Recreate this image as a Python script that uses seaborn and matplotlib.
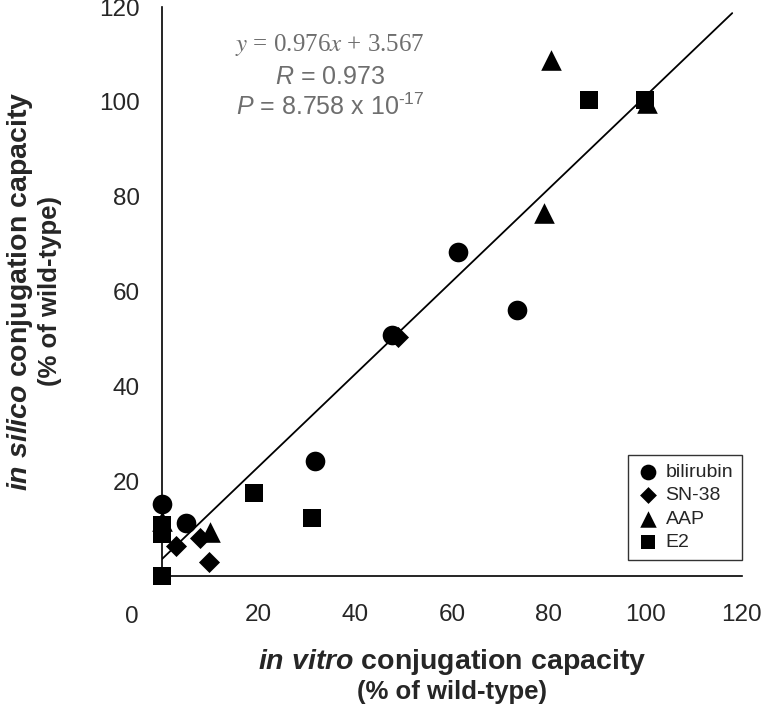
import matplotlib
matplotlib.use('Agg')
import matplotlib.pyplot as plt
import seaborn as sns

# values
bilirubin_x = [0, 5.0, 31.7, 47.6, 61.3, 73.5]
bilirubin_y = [15.2, 11.2, 24.3, 50.8, 68.4, 56.1]

sn38_x = [2.9, 7.9, 9.7, 48.9]
sn38_y = [6.3, 8.0, 3.0, 50.3]

aap_x = [0, 9.9, 79.0, 80.5, 100.4]
aap_y = [11.5, 9.3, 76.5, 108.9, 99.8]

e2_x = [0, 0, 0, 19.0, 31.0, 88.4, 100.0]
e2_y = [0, 8.8, 10.8, 17.5, 12.2, 100.4, 100.4]

slope = 0.976
intercept = 3.567
fit_x = [0, 118.0]
r_value = 0.973

ticks = [20, 40, 60, 80, 100, 120]

sns.set_style('white')
plt.rcParams['font.family'] = ['Liberation Sans', 'DejaVu Sans']
plt.rcParams['mathtext.fontset'] = 'custom'
plt.rcParams['mathtext.rm'] = 'Liberation Sans'
plt.rcParams['mathtext.it'] = 'Liberation Sans:italic'
plt.rcParams['mathtext.bf'] = 'Liberation Sans:bold'
plt.rcParams['mathtext.bfit'] = 'Liberation Sans:bold:italic'

fig = plt.figure(figsize=(7.68, 7.11), dpi=100)
ax = fig.add_axes([0.211, 0.19, 0.755, 0.80])

groups = [
    ('bilirubin', bilirubin_x, bilirubin_y, 'o', 200),
    ('SN-38', sn38_x, sn38_y, 'D', 115),
    ('AAP', aap_x, aap_y, '^', 220),
    ('E2', e2_x, e2_y, 's', 175),
]
for name, xs, ys, m, s in groups:
    sns.scatterplot(x=xs, y=ys, marker=m, s=s, color='black', linewidth=0,
                    label=name, ax=ax, clip_on=False, zorder=3)

fit_y = [slope * v + intercept for v in fit_x]
ax.plot(fit_x, fit_y, color='black', lw=1.3, zorder=2)

ax.set_xlim(0, 120)
ax.set_ylim(0, 120)
ax.set_xticks(ticks)
ax.set_yticks(ticks)
ax.tick_params(axis='x', direction='out', length=5, width=1, pad=15,
               labelsize=17.5, color='black')
ax.tick_params(axis='y', direction='out', length=5, width=1, pad=11,
               labelsize=17.5, color='black')
sns.despine(ax=ax)
for sp in ['left', 'bottom']:
    ax.spines[sp].set_color('black')
    ax.spines[sp].set_linewidth(1.2)

fig.text(132 / 768, 1 - 617 / 711, '0', ha='center', va='center', fontsize=17.5)

# axis titles, two lines each
fig.text(452 / 768, 1 - 662 / 711, r'$\mathbfit{in\ vitro}$ conjugation capacity',
         fontsize=20.5, fontweight='bold', ha='center', va='center')
fig.text(452 / 768, 1 - 692 / 711, '(% of wild-type)',
         fontsize=18.5, fontweight='bold', ha='center', va='center')
fig.text(20 / 768, 1 - 291 / 711, r'$\mathbfit{in\ silico}$ conjugation capacity',
         fontsize=20.5, fontweight='bold', ha='center', va='center', rotation=90)
fig.text(50 / 768, 1 - 291 / 711, '(% of wild-type)',
         fontsize=18.5, fontweight='bold', ha='center', va='center', rotation=90)

grey = '#6e6e6e'
ax.text(34.8, 112.0, r'$y$ = %.3f$x$ + %.3f' % (slope, intercept),
        family='Liberation Serif', math_fontfamily='stix', color=grey,
        fontsize=18, ha='center', va='center')
ax.text(34.8, 105.3, r'$R$ = %.3f' % r_value, color=grey, fontsize=18,
        ha='center', va='center')
ax.text(34.8, 99.0, r'$P$ = 8.758 x 10$^{‐17}$', color=grey, fontsize=18,
        ha='center', va='center')

leg = ax.legend(loc='lower right', bbox_to_anchor=(1.0, 0.028), fontsize=14,
                frameon=True, fancybox=False, edgecolor='black',
                markerscale=0.8, handletextpad=0.3, borderpad=0.45,
                borderaxespad=0.0, labelspacing=0.3, handlelength=1.2)
leg.get_frame().set_linewidth(1.0)

fig.savefig('out.png', dpi=100)
